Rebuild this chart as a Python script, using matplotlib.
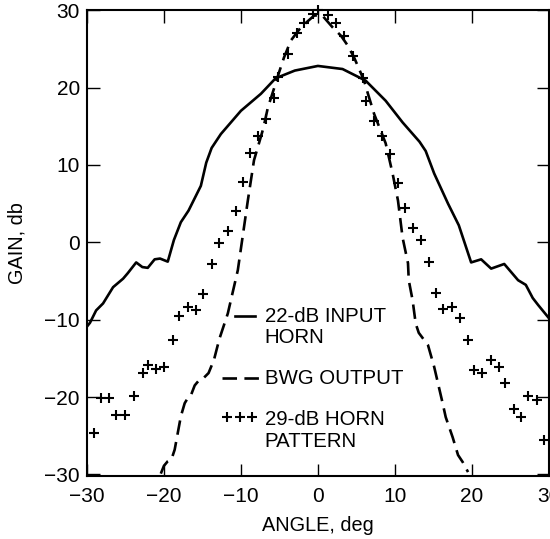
"""Horn gain patterns: 22-dB input horn, BWG output and 29-dB horn."""
import matplotlib

matplotlib.use("Agg")
import matplotlib.pyplot as plt

plt.rcParams["font.family"] = ["Liberation Sans", "DejaVu Sans"]

# 22-dB input horn (solid)
input_angle = [-30.0, -29.6, -28.8, -27.9, -26.6, -25.3, -24.7, -23.6, -22.8, -22.1,
               -21.2, -20.5, -19.5, -18.7, -17.8, -16.8, -15.2, -14.5, -13.8, -12.6,
               -10.0, -7.4, -5.5, -3.0, 0.0, 3.2, 6.2, 8.8, 11.0, 13.2,
               14.0, 15.1, 16.9, 18.3, 19.9, 21.2, 22.5, 24.2, 26.0, 27.0,
               27.9, 28.6, 30.0]
input_gain = [-10.9, -10.4, -8.8, -7.9, -5.8, -4.7, -4.0, -2.6, -3.2, -3.3,
              -2.2, -2.1, -2.5, 0.3, 2.6, 4.1, 7.3, 10.3, 12.2, 14.0,
              17.0, 19.2, 21.2, 22.2, 22.8, 22.4, 20.9, 18.3, 15.5, 13.0,
              11.8, 8.9, 5.0, 2.2, -2.6, -2.2, -3.4, -2.8, -4.9, -5.5,
              -7.2, -8.1, -9.8]

# BWG output (dashed)
bwg_angle = [-20.4, -20.0, -19.5, -19.0, -18.6, -17.8, -17.3, -17.0, -16.5, -16.0,
             -15.5, -14.8, -14.2, -13.5, -12.8, -11.7, -10.4, -9.1, -8.3, -7.1,
             -6.5, -5.5, -5.1, -4.4, -3.5, -2.2, -0.5, 0.5, 1.9, 3.0,
             3.9, 4.7, 6.0, 6.5, 7.3, 8.8, 9.7, 10.4, 11.0, 11.7,
             11.8, 12.3, 12.7, 13.1, 14.3, 15.1, 16.2, 16.6, 17.5, 18.2,
             18.8, 19.5]
bwg_gain = [-29.9, -28.9, -28.3, -28.0, -26.8, -22.5, -20.8, -20.3, -19.8, -18.5,
            -17.9, -17.5, -16.9, -15.2, -12.5, -9.2, -3.6, 5.4, 10.6, 14.7,
            17.4, 20.5, 21.8, 23.9, 26.1, 27.8, 29.3, 29.4, 27.8, 26.7,
            25.4, 23.9, 20.9, 19.2, 16.6, 12.8, 8.9, 5.4, 0.6, -2.7,
            -4.9, -7.5, -10.5, -11.7, -13.3, -16.1, -20.8, -22.6, -25.2, -27.5,
            -28.4, -29.7]

# 29-dB horn pattern (crosses)
horn_angle = [-29.1, -28.2, -27.1, -26.2, -25.1, -23.9, -22.7, -22.1, -21.0, -20.0,
              -18.8, -18.0, -16.9, -15.8, -14.9, -13.8, -12.9, -11.7, -10.6, -9.7,
              -8.8, -7.8, -6.8, -5.7, -5.2, -3.9, -2.7, -1.8, -0.6, 0.0,
              1.3, 2.3, 3.4, 4.5, 5.8, 6.2, 7.3, 8.3, 9.4, 10.4,
              11.3, 12.3, 13.4, 14.4, 15.3, 16.2, 17.4, 18.4, 19.5, 20.3,
              21.3, 22.5, 23.5, 24.3, 25.5, 26.4, 27.3, 28.4, 29.4]
horn_gain = [-24.6, -20.1, -20.1, -22.3, -22.3, -19.9, -16.9, -15.9, -16.4, -16.1,
             -12.6, -9.5, -8.4, -8.8, -6.7, -2.8, -0.1, 1.5, 4.0, 7.8,
             11.5, 13.8, 16.0, 18.6, 21.4, 24.4, 27.0, 28.4, 29.5, 30.0,
             29.4, 28.4, 26.7, 24.1, 21.3, 18.3, 15.7, 13.8, 11.4, 7.7,
             4.4, 1.9, 0.3, -2.5, -6.5, -8.6, -8.4, -9.8, -12.6, -16.5,
             -16.9, -15.2, -16.1, -18.2, -21.5, -22.6, -19.9, -20.4, -25.5]

ticks = [-30, -20, -10, 0, 10, 20, 30]
# legend text, one entry per printed line, with its baseline (axes fraction)
legend_lines = ["22-dB INPUT", "HORN", "BWG OUTPUT", "29-dB HORN", "PATTERN"]
legend_base = [0.330, 0.285, 0.197, 0.109, 0.062]

DASH = (5.5, 2.8)
MS = 7.5

fig = plt.figure(figsize=(5.5, 5.39), dpi=100)
ax = fig.add_axes([0.158, 0.117, 0.840, 0.864])

ax.plot(input_angle, input_gain, color="black", linewidth=1.9)
ax.plot(bwg_angle, bwg_gain, color="black", linewidth=1.9, linestyle=(0, DASH))
ax.plot(horn_angle, horn_gain, linestyle="none", marker="+", color="black",
        markersize=MS, markeredgewidth=1.5, clip_on=False)

ax.set_xlim(-30, 30)
ax.set_ylim(-30.2, 29.9)
ax.set_xticks(ticks)
ax.set_yticks(ticks)
ax.set_xticklabels([str(t).replace("-", "\u2212") for t in ticks])
ax.set_yticklabels([str(t).replace("-", "\u2212") for t in ticks])
ax.tick_params(direction="in", length=9, width=1.0, top=True, right=True,
               labelsize=15)
ax.tick_params(axis="x", pad=8)
ax.tick_params(axis="y", pad=5)
for s in ax.spines.values():
    s.set_linewidth(1.5)

ax.set_xlabel("ANGLE, deg", fontsize=14.3, labelpad=7)
ax.set_ylabel("GAIN, db", fontsize=14.3, labelpad=13)

# hand-placed legend keys, as in the original artwork
tr = ax.transAxes
ax.plot([0.320, 0.364], [0.343, 0.343], transform=tr, color="black", linewidth=1.9)
ax.plot([0.292, 0.375], [0.210, 0.210], transform=tr, color="black",
        linewidth=1.9, linestyle=(0, DASH))
ax.plot([0.303, 0.331, 0.357], [0.127, 0.127, 0.127], transform=tr,
        linestyle="none", marker="+", color="black", markersize=MS,
        markeredgewidth=1.5)
for line, y in zip(legend_lines, legend_base):
    ax.text(0.385, y, line, transform=tr, fontsize=14.7, va="baseline", ha="left")

fig.savefig("out.png", dpi=100)
